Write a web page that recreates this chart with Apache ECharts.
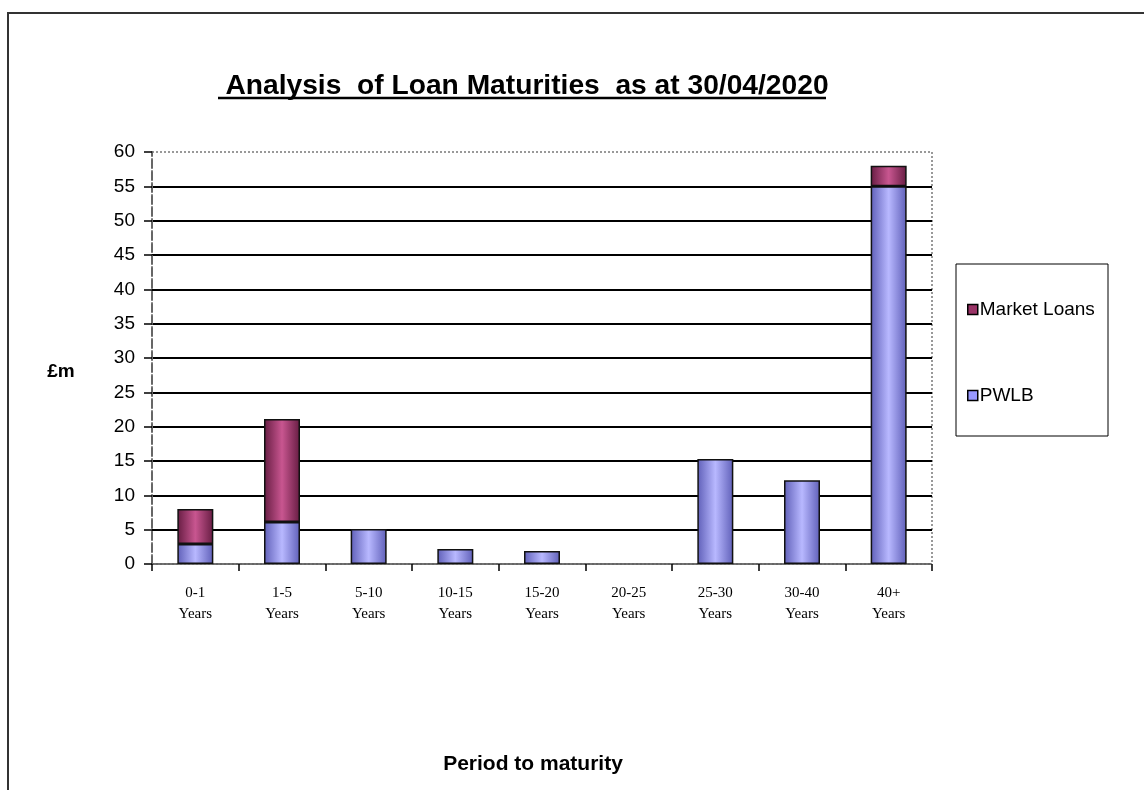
<!DOCTYPE html>
<html>
<head>
<meta charset="utf-8">
<script src="https://cdn.jsdelivr.net/npm/echarts@6/dist/echarts.min.js"></script>
<style>
  html, body { margin: 0; padding: 0; background: #fff; }
  #chart { width: 1144px; height: 790px; }
</style>
</head>
<body>
<div id="chart"></div>
<script>
// data (£m)
var categories = ['0-1\nYears', '1-5\nYears', '5-10\nYears', '10-15\nYears', '15-20\nYears',
                  '20-25\nYears', '25-30\nYears', '30-40\nYears', '40+\nYears'];
var pwlb = [2.9, 6.1, 5.1, 2.2, 1.9, null, 15.3, 12.2, 55];
var marketLoans = [5.1, 15, null, null, null, null, null, null, 3];
var yTicks = { min: 0, max: 60, interval: 5 };

// cylinder-ish shading like the old Excel bars
function shade(edge, mid) {
    return new echarts.graphic.LinearGradient(0, 0, 1, 0, [
        { offset: 0, color: edge },
        { offset: 0.5, color: mid },
        { offset: 1, color: edge }
    ]);
}

var myChart = echarts.init(document.getElementById('chart'));
var option = {
    animation: false,
    backgroundColor: '#fff',
    title: {
        text: 'Analysis  of Loan Maturities  as at 30/04/2020',
        left: 522,
        top: 67,
        textAlign: 'center',
        textStyle: { fontFamily: 'Liberation Sans, Arial', fontSize: 28.2, fontWeight: 'bold', color: '#000' }
    },
    legend: {
        orient: 'vertical',
        left: 962,
        top: 295,
        itemGap: 67,
        itemWidth: 10,
        itemHeight: 10,
        textStyle: { fontFamily: 'Liberation Sans, Arial', fontSize: 19, color: '#000', padding: [0, 0, 0, -3] },
        data: [
            { name: 'Market Loans', icon: 'rect', itemStyle: { color: '#993366', borderColor: '#000', borderWidth: 1.5 } },
            { name: 'PWLB', icon: 'rect', itemStyle: { color: '#9999ff', borderColor: '#000', borderWidth: 1.5 } }
        ]
    },
    grid: {
        left: 152, right: 212, top: 152, bottom: 226,
        show: true,
        borderColor: '#999',
        borderWidth: 2,
        borderType: 'dotted'
    },
    xAxis: {
        type: 'category',
        data: categories,
        axisLine: { lineStyle: { color: '#666', width: 2, type: 'dotted' } },
        axisTick: { show: true, alignWithLabel: false, length: 7, lineStyle: { color: '#000', width: 1.5 } },
        axisLabel: {
            margin: 19,
            lineHeight: 21,
            fontFamily: 'Liberation Serif, Times New Roman',
            fontSize: 15,
            color: '#000',
            interval: 0
        }
    },
    yAxis: {
        type: 'value',
        min: yTicks.min,
        max: yTicks.max,
        interval: yTicks.interval,
        axisLine: { show: true, lineStyle: { color: '#666', width: 2, type: 'dashed' } },
        axisTick: { show: true, length: 8, lineStyle: { color: '#000', width: 1.5 } },
        axisLabel: { margin: 17, fontFamily: 'Liberation Sans, Arial', fontSize: 19, color: '#000' },
        splitLine: { show: true, showMinLine: false, showMaxLine: false, lineStyle: { color: '#000', width: 2 } }
    },
    series: [
        {
            name: 'PWLB',
            type: 'bar',
            stack: 'loans',
            barWidth: 36,
            data: pwlb,
            itemStyle: { color: shade('#5f5fb8', '#b8b8ff'), borderColor: '#111', borderWidth: 1.5 }
        },
        {
            name: 'Market Loans',
            type: 'bar',
            stack: 'loans',
            barWidth: 36,
            data: marketLoans,
            itemStyle: { color: shade('#661c42', '#c85690'), borderColor: '#111', borderWidth: 1.5 }
        }
    ],
    graphic: [
        // outer chart frame (runs off the right/bottom of the picture)
        { type: 'rect', shape: { x: 8, y: 13, width: 1200, height: 820 }, style: { fill: null, stroke: '#333', lineWidth: 2 }, silent: true },
        // title underline
        { type: 'line', shape: { x1: 218, y1: 98, x2: 826, y2: 98 }, style: { stroke: '#000', lineWidth: 2.5 }, silent: true },
        // y axis unit, sits a bit below the 30 label
        { type: 'text', x: 61, y: 372, style: { text: '£m', fill: '#000', font: 'bold 19px "Liberation Sans", Arial', textAlign: 'center', textVerticalAlign: 'middle' }, silent: true },
        // x axis title, not centred on the plot in the original
        { type: 'text', x: 533, y: 764, style: { text: 'Period to maturity', fill: '#000', font: 'bold 21px "Liberation Sans", Arial', textAlign: 'center', textVerticalAlign: 'middle' }, silent: true },
        // legend box
        { type: 'rect', shape: { x: 956, y: 264, width: 152, height: 172 }, style: { fill: null, stroke: '#000', lineWidth: 1 }, silent: true }
    ]
};
myChart.setOption(option);
</script>
</body>
</html>
